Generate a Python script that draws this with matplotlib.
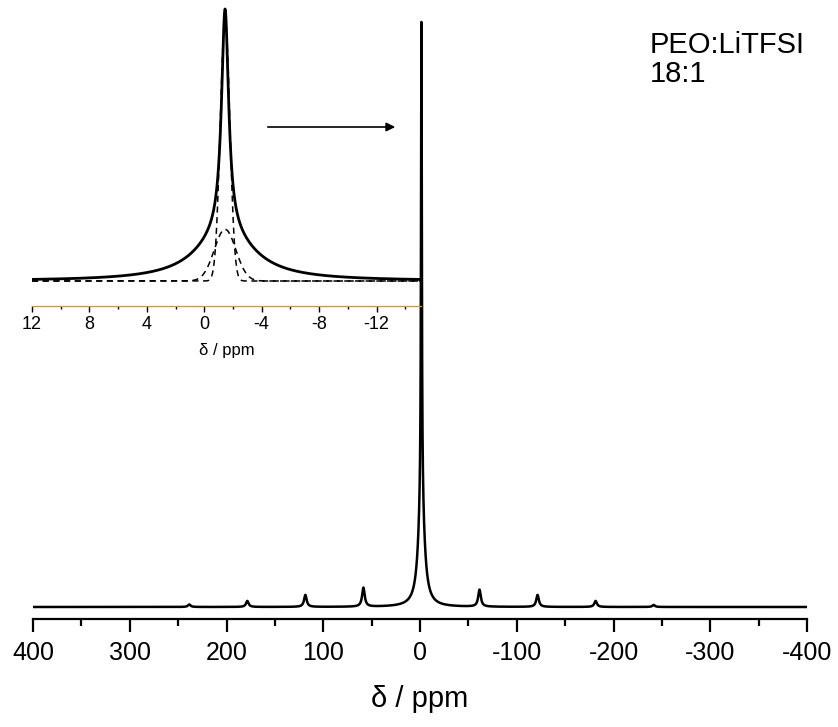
import numpy as np
import matplotlib
matplotlib.use("Agg")
import matplotlib.pyplot as plt
from matplotlib.ticker import MultipleLocator

plt.rcParams['font.family'] = ['Liberation Sans', 'DejaVu Sans']

# ---------------- data ----------------
# main spectrum: isotropic line + spinning sidebands (Lorentzian lines)
center_shift = -1.45                       # ppm
center_heights = [0.81, 0.19]              # narrow / broad contribution
center_widths = [0.5, 3.6]                 # HWHM, ppm
sideband_shifts = [238.5, 178.5, 118.5, 58.5, -61.5, -121.5, -181.5, -241.5]
sideband_heights = [0.0043, 0.0103, 0.0205, 0.0325, 0.029, 0.0205, 0.0103, 0.0034]
sideband_width = 1.6

# inset: measured line and its two fitted components
inset_heights = [0.824, 0.176]
inset_widths = [0.3, 2.4]
comp_heights = [0.97, 0.19]                # dashed components (Gaussian)
comp_sigmas = [0.33, 0.75]

main_ticks = [400, 300, 200, 100, 0, -100, -200, -300, -400]
inset_ticks = [12, 8, 4, 0, -4, -8, -12]
label_text = "PEO:LiTFSI\n18:1"


def lor(x, x0, h, g):
    return h / (1.0 + ((x - x0) / g) ** 2)


def gau(x, x0, h, s):
    return h * np.exp(-0.5 * ((x - x0) / s) ** 2)


x = np.linspace(400, -400, 32001)
y = sum(lor(x, center_shift, h, g) for h, g in zip(center_heights, center_widths))
for p, h in zip(sideband_shifts, sideband_heights):
    y = y + lor(x, p, h, sideband_width)

xi = np.linspace(12, -15.1, 4001)
yi = sum(lor(xi, center_shift, h, g) for h, g in zip(inset_heights, inset_widths))
c1 = gau(xi, center_shift, comp_heights[0], comp_sigmas[0])
c2 = gau(xi, center_shift, comp_heights[1], comp_sigmas[1])

W, H = 838, 727
fig = plt.figure(figsize=(W / 100, H / 100), dpi=100)

# ---------------- main axes ----------------
ax = fig.add_axes([33 / W, 1 - 619 / H, (807 - 33) / W, 619 / H])
ax.plot(x, y, color='black', lw=1.8)
ax.set_xlim(400, -400)
ax.set_ylim(-12 / 585, 607 / 585)
for s in ['left', 'right', 'top']:
    ax.spines[s].set_visible(False)
ax.spines['bottom'].set_linewidth(1.6)
ax.set_yticks([])
ax.set_xticks(main_ticks)
ax.set_xticklabels([str(t) for t in main_ticks])
ax.xaxis.set_minor_locator(MultipleLocator(50))
ax.tick_params(axis='x', which='major', direction='out', length=9.5, width=1.6,
               labelsize=18, pad=6)
ax.tick_params(axis='x', which='minor', direction='out', length=5, width=1.6)
ax.set_xlabel('δ / ppm', fontsize=21, labelpad=15)
ax.patch.set_visible(False)

# ---------------- inset ----------------
axi = fig.add_axes([32 / W, 1 - 306 / H, (421 - 32) / W, 306 / H])
axi.patch.set_visible(False)
axi.plot(xi, yi, color='black', lw=2.0)
axi.plot(xi, c1, color='black', lw=1.1, ls=(0, (4, 3)))
axi.plot(xi, c2, color='black', lw=1.1, ls=(0, (4, 3)))
axi.set_xlim(12, -15.1)
axi.set_ylim(-25 / 272, 281 / 272)
for s in ['left', 'right', 'top']:
    axi.spines[s].set_visible(False)
axi.spines['bottom'].set_color('#c8964e')
axi.spines['bottom'].set_linewidth(0.9)
axi.set_yticks([])
axi.set_xticks(inset_ticks)
axi.set_xticklabels([str(t) for t in inset_ticks])
axi.xaxis.set_minor_locator(MultipleLocator(2))
axi.tick_params(axis='x', which='major', direction='out', length=4.5, width=1.0,
                labelsize=13, pad=3)
axi.tick_params(axis='x', which='minor', direction='out', length=2.2, width=1.0)
axi.set_xlabel('δ / ppm', fontsize=12, labelpad=7)

# arrow pointing to the main line
fig.patches.append(matplotlib.patches.FancyArrowPatch(
    (265 / W, 1 - 127 / H), (398 / W, 1 - 127 / H), transform=fig.transFigure,
    arrowstyle='-|>', mutation_scale=13, lw=1.2, color='black'))

fig.text(650 / W, 1 - 31 / H, label_text, fontsize=21, va='top', ha='left',
         linespacing=1.05)

fig.savefig('out.png', dpi=100)
